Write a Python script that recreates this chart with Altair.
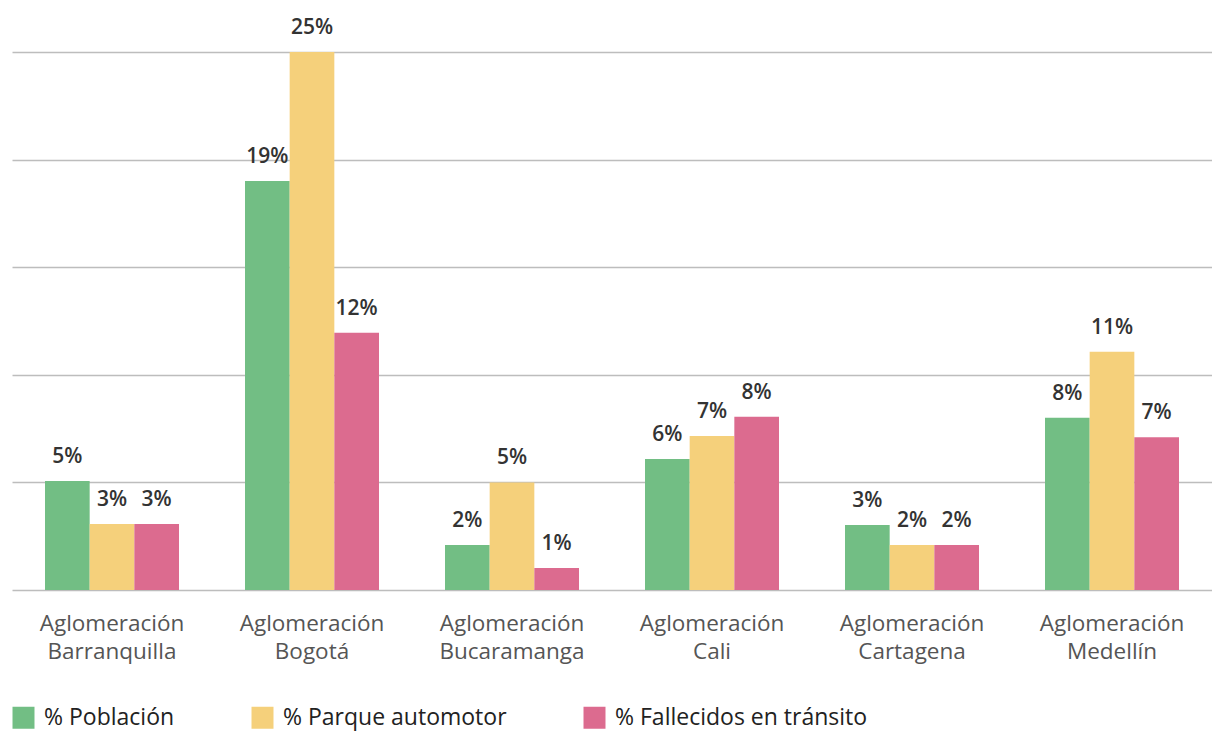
import altair as alt
import pandas as pd

categories = ["Aglomeración Barranquilla", "Aglomeración Bogotá", "Aglomeración Bucaramanga",
              "Aglomeración Cali", "Aglomeración Cartagena", "Aglomeración Medellín"]
series = ["% Población", "% Parque automotor", "% Fallecidos en tránsito"]
poblacion = [5.07, 19.0, 2.09, 6.09, 3.02, 8.0]
parque = [3.07, 25.0, 5.0, 7.16, 2.09, 11.07]
fallecidos = [3.07, 11.95, 1.02, 8.05, 2.09, 7.1]
colors = ["#72BE84", "#F5D07B", "#DC6B8F"]

rows = []
for i, c in enumerate(categories):
    for s, vals in zip(series, [poblacion, parque, fallecidos]):
        rows.append({"cat": c, "serie": s, "value": vals[i]})
df = pd.DataFrame(rows)

FONT = "Open Sans"

x = alt.X("cat:N", sort=categories, title=None,
          scale=alt.Scale(paddingInner=0.33, paddingOuter=0.165),
          axis=alt.Axis(labelAngle=0, labelExpr="split(datum.label, ' ')",
                        labelFontSize=22.5, labelColor="#555555", labelFont=FONT,
                        labelLineHeight=28.5, labelPadding=22, labelBaseline="top",
                        labelLimit=300, ticks=False, domain=False, grid=False))
xoff = alt.XOffset("serie:N", sort=series)
y = alt.Y("value:Q", title=None,
          scale=alt.Scale(domain=[0, 25], nice=False),
          axis=alt.Axis(values=[0, 5, 10, 15, 20, 25], labels=False, ticks=False,
                        domain=False, grid=True, gridColor="#BDBDBD", gridWidth=1.5))

bars = alt.Chart(df).mark_bar().encode(
    x=x, xOffset=xoff, y=y,
    color=alt.Color("serie:N", sort=series,
                    scale=alt.Scale(domain=series, range=colors),
                    legend=alt.Legend(title=None, orient="none", direction="horizontal",
                                      legendX=0, legendY=654, padding=0,
                                      symbolType="square", symbolSize=484,
                                      symbolStrokeWidth=0, symbolOpacity=1,
                                      labelFontSize=23, labelFont=FONT, labelColor="#222222",
                                      labelOffset=9, columnPadding=76, labelLimit=400)),
)

labels = alt.Chart(df).transform_calculate(
    lab="format(datum.value, '.0f') + '%'"
).mark_text(baseline="bottom", dy=-14, fontSize=21, fontWeight=600, font=FONT,
            color="#333333").encode(
    x=alt.X("cat:N", sort=categories), xOffset=xoff, y="value:Q", text="lab:N"
)

chart = alt.layer(bars, labels).properties(
    width=1200, height=538,
    autosize=alt.AutoSizeParams(type="none"),
    padding={"left": 4, "top": 44, "right": 0, "bottom": 144},
).configure_view(stroke=None)

chart.save("out.html", embed_options={"renderer": "svg", "actions": False})
